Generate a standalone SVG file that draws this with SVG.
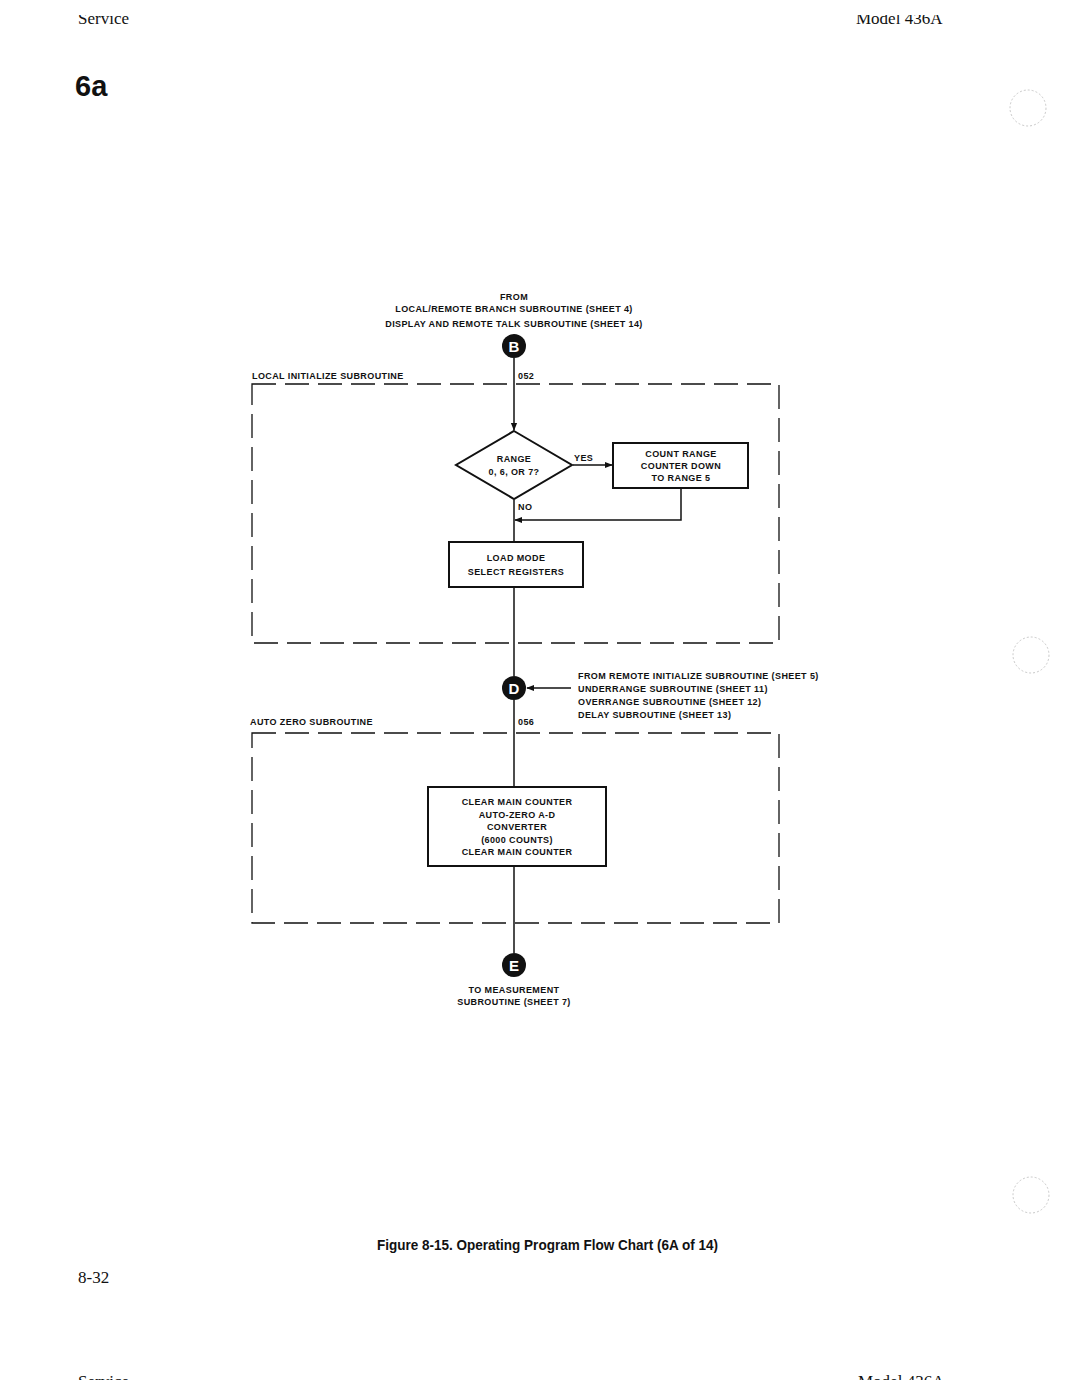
<svg xmlns="http://www.w3.org/2000/svg" width="1080" height="1399" viewBox="0 0 1080 1399">
<defs>
<style>
.t{font-family:"Liberation Sans Narrow","Liberation Sans",sans-serif;font-weight:bold;font-size:9px;fill:#111;letter-spacing:0.4px}
.c{text-anchor:middle}
.ln{stroke:#111;stroke-width:1.5;fill:none}
.box{stroke:#111;stroke-width:2;fill:#fff}
.dash{stroke:#111;stroke-width:1.3;fill:none;stroke-dasharray:24,9}
.conn{fill:#111}
.cl{font-family:"Liberation Sans",sans-serif;font-weight:bold;font-size:15px;fill:#fff;text-anchor:middle}
.hole{stroke:#bbb;stroke-width:0.8;fill:none;stroke-dasharray:2,2}
.serif{font-family:"Liberation Serif",serif;fill:#111}
</style>
<marker id="ah" viewBox="0 0 10 10" refX="9" refY="5" markerWidth="8" markerHeight="8" orient="auto" markerUnits="userSpaceOnUse"><path d="M0,1 L10,5 L0,9 z" fill="#111"/></marker>
<clipPath id="topclip"><rect x="0" y="15" width="1080" height="20"/></clipPath>
<clipPath id="botclip"><rect x="0" y="1370" width="1080" height="10"/></clipPath>
</defs>
<rect width="1080" height="1399" fill="#fff"/>
<g id="header">
<text class="serif" x="78" y="24" font-size="17" clip-path="url(#topclip)">Service</text>
<text class="serif" x="856" y="24" font-size="17" clip-path="url(#topclip)">Model 436A</text>
<text x="75" y="96" font-family="Liberation Sans,sans-serif" font-weight="bold" font-size="29" fill="#111">6a</text>
</g>
<g id="holes">
<circle class="hole" cx="1028" cy="108" r="18"/>
<circle class="hole" cx="1031" cy="655" r="18"/>
<circle class="hole" cx="1031" cy="1195" r="18"/>
</g>
<g id="groups">
<g id="local-init">
<rect class="dash" x="252" y="384" width="527" height="259"/>
<text class="t" x="252" y="379">LOCAL INITIALIZE SUBROUTINE</text>
<text class="t" x="518" y="379">052</text>
</g>
<g id="auto-zero">
<rect class="dash" x="252" y="733" width="527" height="190"/>
<text class="t" x="250" y="725">AUTO ZERO SUBROUTINE</text>
<text class="t" x="518" y="725">056</text>
</g>
</g>
<g id="connectors">
<line class="ln" x1="514" y1="358" x2="514" y2="430" marker-end="url(#ah)"/>
<line class="ln" x1="573" y1="465" x2="612" y2="465" marker-end="url(#ah)"/>
<polyline class="ln" points="681,488 681,520 515,520" marker-end="url(#ah)"/>
<line class="ln" x1="514" y1="500" x2="514" y2="542"/>
<line class="ln" x1="514" y1="587" x2="514" y2="676"/>
<line class="ln" x1="571" y1="688" x2="527" y2="688" marker-end="url(#ah)"/>
<line class="ln" x1="514" y1="700" x2="514" y2="787"/>
<line class="ln" x1="514" y1="866" x2="514" y2="953"/>
<text class="t" x="574" y="461">YES</text>
<text class="t" x="518" y="510">NO</text>
</g>
<g id="node-B">
<text class="t c" x="514" y="300">FROM</text>
<text class="t c" x="514" y="312">LOCAL/REMOTE BRANCH SUBROUTINE (SHEET 4)</text>
<text class="t c" x="514" y="327">DISPLAY AND REMOTE TALK SUBROUTINE (SHEET 14)</text>
<circle class="conn" cx="514" cy="346" r="12"/>
<text class="cl" x="514" y="351.5">B</text>
</g>
<g id="node-range">
<polygon class="box" points="514,431 572,465 514,499 456,465"/>
<text class="t c" x="514" y="462">RANGE</text>
<text class="t c" x="514" y="475">0, 6, OR 7?</text>
</g>
<g id="node-count">
<rect class="box" x="613" y="443" width="135" height="45"/>
<text class="t c" x="681" y="457">COUNT RANGE</text>
<text class="t c" x="681" y="469">COUNTER DOWN</text>
<text class="t c" x="681" y="481">TO RANGE 5</text>
</g>
<g id="node-load">
<rect class="box" x="449" y="542" width="134" height="45"/>
<text class="t c" x="516" y="561">LOAD MODE</text>
<text class="t c" x="516" y="575">SELECT REGISTERS</text>
</g>
<g id="node-D">
<circle class="conn" cx="514" cy="688" r="12"/>
<text class="cl" x="514" y="693.5">D</text>
<text class="t" x="578" y="679">FROM REMOTE INITIALIZE SUBROUTINE (SHEET 5)</text>
<text class="t" x="578" y="692">UNDERRANGE SUBROUTINE (SHEET 11)</text>
<text class="t" x="578" y="705">OVERRANGE SUBROUTINE (SHEET 12)</text>
<text class="t" x="578" y="718">DELAY SUBROUTINE (SHEET 13)</text>
</g>
<g id="node-clear">
<rect class="box" x="428" y="787" width="178" height="79"/>
<text class="t c" x="517" y="805">CLEAR MAIN COUNTER</text>
<text class="t c" x="517" y="818">AUTO-ZERO A-D</text>
<text class="t c" x="517" y="830">CONVERTER</text>
<text class="t c" x="517" y="843">(6000 COUNTS)</text>
<text class="t c" x="517" y="855">CLEAR MAIN COUNTER</text>
</g>
<g id="node-E">
<circle class="conn" cx="514" cy="965" r="12"/>
<text class="cl" x="514" y="970.5">E</text>
<text class="t c" x="514" y="993">TO MEASUREMENT</text>
<text class="t c" x="514" y="1005">SUBROUTINE (SHEET 7)</text>
</g>
<g id="footer">
<text x="377" y="1250" font-family="Liberation Sans Narrow,Liberation Sans,sans-serif" font-weight="bold" font-size="15" fill="#111" textLength="341" lengthAdjust="spacingAndGlyphs">Figure 8-15. Operating Program Flow Chart (6A of 14)</text>
<text class="serif" x="78" y="1283" font-size="17">8-32</text>
<text class="serif" x="78" y="1387" font-size="17" clip-path="url(#botclip)">Service</text>
<text class="serif" x="858" y="1387" font-size="17" clip-path="url(#botclip)">Model 436A</text>
</g>
</svg>
